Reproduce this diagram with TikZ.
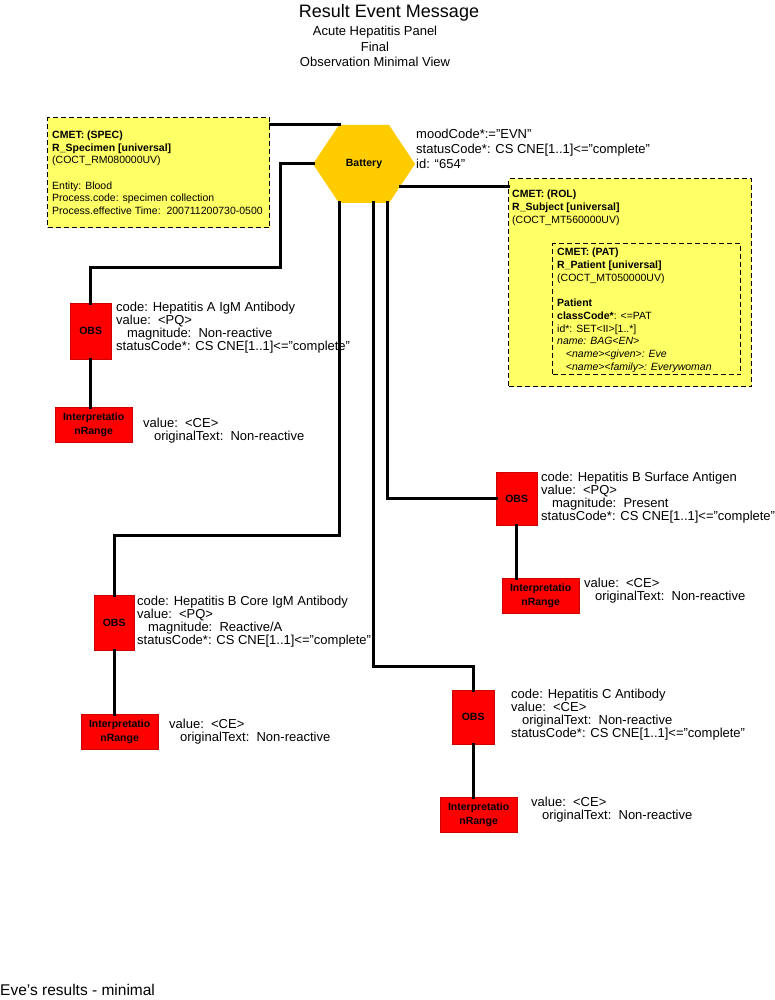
\documentclass[tikz,border=0pt]{standalone}
\usepackage{fontspec}
\setmainfont{Liberation Sans}
\definecolor{boxyellow}{HTML}{FFFF66}
\definecolor{hexgold}{HTML}{FFCC00}
\definecolor{obsred}{HTML}{FF0000}
\begin{document}
\begin{tikzpicture}[x=1pt,y=-1pt,
  conn/.style={line width=3pt,line cap=rect},
  cmet/.style={draw,dash pattern=on 5pt off 3pt,line width=1.2pt,fill=boxyellow},
  obsbox/.style={fill=obsred,draw=obsred!80!black,line width=0.3pt,minimum width=41pt,minimum height=56pt,inner sep=0pt,font=\fontsize{10.5}{12}\selectfont\bfseries},
  irbox/.style={fill=obsred,draw=obsred!80!black,line width=0.3pt,minimum width=77pt,minimum height=35pt,inner sep=0pt,align=center,font=\fontsize{10.5}{13.5}\selectfont\bfseries},
  info/.style={anchor=north west,inner sep=0pt,align=left,font=\fontsize{13}{13}\selectfont},
  small/.style={anchor=north west,inner sep=0pt,align=left,font=\fontsize{10.5}{12.7}\selectfont}]
\useasboundingbox (0,0) rectangle (774,1000);
\fill[white] (0,0) rectangle (774,1000);

% titles
\node[inner sep=0pt,font=\fontsize{18}{20}\selectfont] (t1) at (389,13) {Result Event Message};
\node[inner sep=0pt,font=\fontsize{13}{15}\selectfont] (t2) at (375,32) {Acute Hepatitis Panel};
\node[inner sep=0pt,font=\fontsize{13}{15}\selectfont] (t3) at (375,47) {Final};
\node[inner sep=0pt,font=\fontsize{13}{15}\selectfont] (t4) at (375,62) {Observation Minimal View};

% SPEC box
\node[cmet,anchor=north west,minimum width=222pt,minimum height=110pt,inner sep=0pt] (spec) at (47,117) {};
\node[small] (spectxt) at (52,130.5) {\textbf{CMET: (SPEC)}\\\textbf{R\_Specimen [universal]}\\(COCT\_RM080000UV)\\[12.7pt]Entity: Blood\\Process.code: specimen collection\\Process.effective Time:\ \ 200711200730-0500};

% ROL box
\node[cmet,anchor=north west,minimum width=243pt,minimum height=208pt,inner sep=0pt] (rol) at (508,178) {};
\node[small] (roltxt) at (512,190) {\textbf{CMET: (ROL)}\\\textbf{R\_Subject [universal]}\\(COCT\_MT560000UV)};
\node[draw,dash pattern=on 5pt off 3pt,line width=1.2pt,anchor=north west,minimum width=188pt,minimum height=131pt,inner sep=0pt] (pat) at (552,243) {};
\node[small] (pattxt) at (557,248) {\textbf{CMET: (PAT)}\\\textbf{R\_Patient [universal]}\\(COCT\_MT050000UV)\\[12.7pt]\textbf{Patient}\\\textbf{classCode*}: <=PAT\\id*: SET<II>[1..*]\\\textit{name: BAG<EN>}\\\textit{\ \ \ <name><given>: Eve}\\\textit{\ \ \ <name><family>: Everywoman}};

% Battery hexagon
\coordinate (hl) at (313,164);
\coordinate (htl) at (339,125);
\coordinate (htr) at (389,125);
\coordinate (hr) at (415,164);
\coordinate (hbr) at (389,203);
\coordinate (hbl) at (339,203);
\fill[hexgold] (hl) -- (htl) -- (htr) -- (hr) -- (hbr) -- (hbl) -- cycle;
\node[inner sep=0pt,font=\fontsize{10.5}{12}\selectfont\bfseries] (bat) at (364,164) {Battery};
\node[info,font=\fontsize{13}{15}\selectfont] (battxt) at (416,129) {moodCode*:=”EVN”\\statusCode*: CS CNE[1..1]<=”complete”\\id: “654”};

% OBS nodes
\node[obsbox,anchor=north west] (obs1) at (70,303) {OBS};
\node[irbox,anchor=north west] (ir1) at (55,407) {Interpretatio\\nRange};
\node[info] (o1t) at (116,302) {code: Hepatitis A IgM Antibody\\value:\ \ <PQ>\\\ \ \ magnitude:\ \ Non-reactive\\statusCode*: CS CNE[1..1]<="complete"};
\node[info] (i1t) at (143,418) {value:\ \ <CE>\\\ \ \ originalText:\ \ Non-reactive};

\node[obsbox,anchor=north west,minimum height=53pt] (obs2) at (496,472) {OBS};
\node[irbox,anchor=north west] (ir2) at (502,578) {Interpretatio\\nRange};
\node[info] (o2t) at (541,472) {code: Hepatitis B Surface Antigen\\value:\ \ <PQ>\\\ \ \ magnitude:\ \ Present\\statusCode*: CS CNE[1..1]<="complete"};
\node[info] (i2t) at (584,578) {value:\ \ <CE>\\\ \ \ originalText:\ \ Non-reactive};

\node[obsbox,anchor=north west,minimum width=40pt,minimum height=55pt] (obs3) at (94,595) {OBS};
\node[irbox,anchor=north west] (ir3) at (81,714) {Interpretatio\\nRange};
\node[info] (o3t) at (137,596) {code: Hepatitis B Core IgM Antibody\\value:\ \ <PQ>\\\ \ \ magnitude:\ \ Reactive/A\\statusCode*: CS CNE[1..1]<="complete"};
\node[info] (i3t) at (169,719) {value:\ \ <CE>\\\ \ \ originalText:\ \ Non-reactive};

\node[obsbox,anchor=north west,minimum width=42pt,minimum height=54pt] (obs4) at (452,690) {OBS};
\node[irbox,anchor=north west] (ir4) at (440,797) {Interpretatio\\nRange};
\node[info] (o4t) at (511,689) {code: Hepatitis C Antibody\\value:\ \ <CE>\\\ \ \ originalText:\ \ Non-reactive\\statusCode*: CS CNE[1..1]<="complete"};
\node[info] (i4t) at (531,797) {value:\ \ <CE>\\\ \ \ originalText:\ \ Non-reactive};

% connectors
\coordinate (b1) at (339,203);
\coordinate (b2) at (373,203);
\coordinate (b3) at (387,203);
\coordinate (hre) at (400,187);
\draw[conn] (spec.north east |- htl) -- (htl);
\draw[conn] (hl) -- (280,164) -- (280,267) -- (obs1.north |- 0,267) -- (obs1.north);
\draw[conn] (hre) -- (rol.west |- hre);
\draw[conn] (b1) -- (339,535) -- (obs3.north |- 0,535) -- (obs3.north);
\draw[conn] (b3) -- (387,498) -- (obs2.west |- 0,498);
\draw[conn] (b2) -- (373,666) -- (obs4.north |- 0,666) -- (obs4.north);
\draw[conn] (obs1.south) -- (ir1.north -| obs1.south);
\draw[conn] (obs2.south) -- (ir2.north -| obs2.south);
\draw[conn] (obs3.south) -- (ir3.north -| obs3.south);
\draw[conn] (obs4.south) -- (ir4.north -| obs4.south);

% footer
\node[anchor=west,inner sep=0pt,font=\fontsize{15.5}{17}\selectfont] (foot) at (0,990) {Eve’s results - minimal};
\end{tikzpicture}
\end{document}
